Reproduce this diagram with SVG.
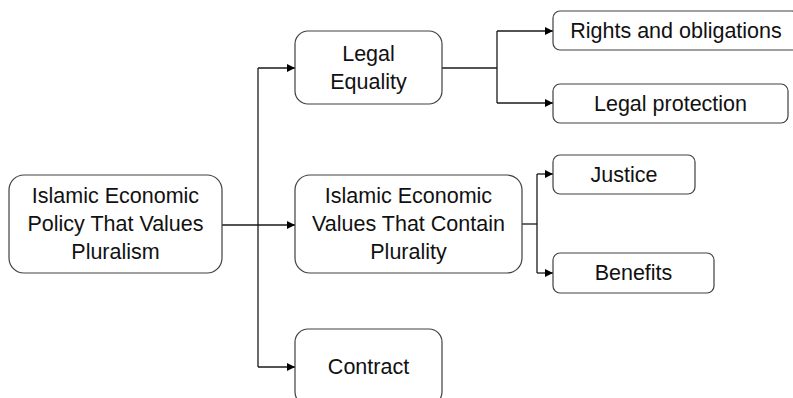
<svg xmlns="http://www.w3.org/2000/svg" width="793" height="398" viewBox="0 0 793 398">
<style>
.box{fill:#fff;stroke:#404040;stroke-width:1.2}
.t{font-family:"Liberation Sans",Arial,sans-serif;font-size:21.5px;fill:#111;text-anchor:middle;dominant-baseline:central}
.c{fill:none;stroke:#1a1a1a;stroke-width:1.3}
</style>
<defs>
<marker id="ah" viewBox="0 0 10 10" refX="10" refY="5" markerWidth="8" markerHeight="8" markerUnits="userSpaceOnUse" orient="auto">
<path d="M0,0 L10,5 L0,10 Z" fill="#000"/>
</marker>
</defs>
<rect width="793" height="398" fill="#fff"/>
<g id="connectors">
<path class="c" d="M222,225 H295" marker-end="url(#ah)"/>
<path class="c" d="M258,68 V367"/>
<path class="c" d="M258,68 H295" marker-end="url(#ah)"/>
<path class="c" d="M258,367 H295" marker-end="url(#ah)"/>
<path class="c" d="M442,68 H497"/>
<path class="c" d="M497,31 V103"/>
<path class="c" d="M497,31 H553" marker-end="url(#ah)"/>
<path class="c" d="M497,103 H553" marker-end="url(#ah)"/>
<path class="c" d="M522,224 H537"/>
<path class="c" d="M537,174 V273"/>
<path class="c" d="M537,174 H553" marker-end="url(#ah)"/>
<path class="c" d="M537,273 H553" marker-end="url(#ah)"/>
</g>
<g id="n-policy">
<rect class="box" x="9" y="175" width="213" height="98" rx="15"/>
<text class="t" x="115.5" y="196">Islamic Economic</text>
<text class="t" x="115.5" y="224">Policy That Values</text>
<text class="t" x="115.5" y="252">Pluralism</text>
</g>
<g id="n-legal-equality">
<rect class="box" x="295" y="31" width="147" height="73" rx="13"/>
<text class="t" x="368.5" y="53.5">Legal</text>
<text class="t" x="368.5" y="81.5">Equality</text>
</g>
<g id="n-values">
<rect class="box" x="295" y="175" width="227" height="98" rx="15"/>
<text class="t" x="408.5" y="196">Islamic Economic</text>
<text class="t" x="408.5" y="224">Values That Contain</text>
<text class="t" x="408.5" y="252">Plurality</text>
</g>
<g id="n-contract">
<rect class="box" x="295" y="329" width="147" height="76" rx="13"/>
<text class="t" x="368.5" y="367">Contract</text>
</g>
<g id="n-rights">
<rect class="box" x="553" y="11" width="246" height="39" rx="7"/>
<text class="t" x="676" y="30.5">Rights and obligations</text>
</g>
<g id="n-protection">
<rect class="box" x="553" y="84" width="235" height="39" rx="7"/>
<text class="t" x="670.5" y="103.5">Legal protection</text>
</g>
<g id="n-justice">
<rect class="box" x="553" y="155" width="142" height="39" rx="7"/>
<text class="t" x="624" y="174.5">Justice</text>
</g>
<g id="n-benefits">
<rect class="box" x="553" y="253" width="161" height="40" rx="7"/>
<text class="t" x="633.5" y="273">Benefits</text>
</g>
</svg>
